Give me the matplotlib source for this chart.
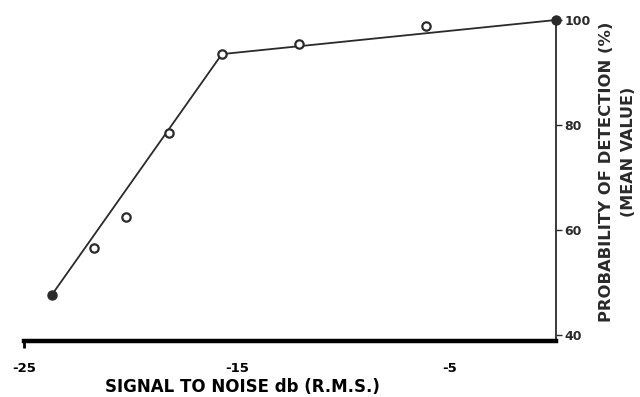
import matplotlib
matplotlib.use("Agg")
import matplotlib.pyplot as plt

# measured points (signal to noise in dB, detection in %)
snr_db = [-23.7, -21.7, -20.2, -18.2, -15.7, -12.1, -6.1, 0.0]
detect_pct = [47.6, 56.5, 62.5, 78.5, 93.5, 95.4, 98.9, 100.0]
filled = [True, False, False, False, False, False, False, True]

# drawn trend line
fit_db = [-23.7, -15.7, 0.0]
fit_pct = [47.6, 93.5, 100.0]

xticks = [-25, -15, -5]
xtick_labels = ["-25", "-15", "-5"]
yticks = [40, 60, 80, 100]
ytick_labels = ["40", "60", "80", "100"]

ink = "#2a2a2a"

fig = plt.figure(figsize=(6.4, 3.97), dpi=100)
ax = fig.add_axes([0.0375, 0.1411, 0.8313, 0.8136])

ax.plot(fit_db, fit_pct, color=ink, lw=1.3, zorder=2)

open_x = [x for x, f in zip(snr_db, filled) if not f]
open_y = [y for y, f in zip(detect_pct, filled) if not f]
full_x = [x for x, f in zip(snr_db, filled) if f]
full_y = [y for y, f in zip(detect_pct, filled) if f]
ax.plot(open_x, open_y, "o", ms=6, mfc="white", mec=ink, mew=1.6, zorder=3, clip_on=False)
ax.plot(full_x, full_y, "o", ms=6.5, color=ink, zorder=3, clip_on=False)

ax.set_xlim(-25, 0)
ax.set_ylim(38.86, 100.38)

for s in ["top", "left"]:
    ax.spines[s].set_visible(False)
ax.spines["bottom"].set_linewidth(3.2)
ax.spines["bottom"].set_color("black")
ax.spines["right"].set_linewidth(1.3)
ax.spines["right"].set_color(ink)

ax.set_xticks(xticks)
ax.set_xticklabels(xtick_labels, fontsize=9.5, fontweight="bold", color="black")
ax.xaxis.remove_overlapping_locs = False
ax.set_xticks([-25], minor=True)
ax.tick_params(axis="x", which="major", length=0, pad=15)
ax.tick_params(axis="x", which="minor", length=5, width=2, direction="out", color="black")

ax.yaxis.tick_right()
ax.set_yticks(yticks)
ax.set_yticklabels(ytick_labels, fontsize=9, fontweight="bold", color=ink)
ax.tick_params(axis="y", length=4, width=1, direction="out", pad=2, colors=ink)

ax.set_xlabel("SIGNAL TO NOISE db (R.M.S.)", fontsize=12, fontweight="bold",
              color="black", ha="center", va="center")
ax.xaxis.set_label_coords(0.41, -0.143)

ax.text(1.094, 0.525, "PROBABILITY OF DETECTION (%)", transform=ax.transAxes,
        rotation=90, ha="center", va="center", fontsize=11.8, fontweight="bold", color=ink)
ax.text(1.136, 0.585, "(MEAN VALUE)", transform=ax.transAxes,
        rotation=90, ha="center", va="center", fontsize=11.5, fontweight="bold", color=ink)

fig.savefig("out.png", dpi=100)
